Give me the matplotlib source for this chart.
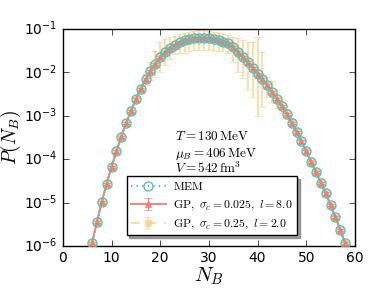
import numpy as np
import matplotlib
matplotlib.use("Agg")
import matplotlib.pyplot as plt

plt.style.use("classic")
plt.rcParams["mathtext.fontset"] = "cm"

# ---- data ----
N = list(range(6, 59))
# log10 P(N_B)
logP = [-5.94, -5.45, -4.99, -4.57, -4.18, -3.82, -3.48, -3.17, -2.88, -2.62,
        -2.38, -2.16, -1.97, -1.80, -1.65, -1.53, -1.43, -1.36, -1.30, -1.26,
        -1.23, -1.21, -1.20, -1.20, -1.21, -1.23, -1.26, -1.29, -1.33, -1.42,
        -1.53, -1.65, -1.77, -1.90, -2.03, -2.16, -2.30, -2.45, -2.61, -2.78,
        -2.96, -3.16, -3.37, -3.59, -3.82, -4.06, -4.30, -4.55, -4.79, -5.06,
        -5.34, -5.63, -5.94]
# GP (sigma_c = 0.25) error bar extents, in decades above / below
gp2_up = [0.03]*9 + [0.05, 0.08, 0.12, 0.20, 0.30, 0.35, 0.30, 0.25, 0.20, 0.18,
          0.17, 0.17, 0.17, 0.17, 0.17, 0.17, 0.17, 0.17, 0.18, 0.19, 0.24,
          0.32, 0.40, 0.48, 0.61, 0.84, 0.64, 0.20, 0.25, 0.20, 0.15, 0.12,
          0.08, 0.05] + [0.03]*10
gp2_dn = [0.03]*9 + [0.05, 0.08, 0.12, 0.20, 0.30, 0.35, 0.30, 0.25, 0.22, 0.25,
          0.28, 0.28, 0.28, 0.28, 0.28, 0.28, 0.28, 0.25, 0.22, 0.22, 0.34,
          0.46, 0.48, 0.64, 0.66, 0.98, 0.63, 0.27, 0.25, 0.20, 0.15, 0.12,
          0.08, 0.05] + [0.03]*10
gp1_rel = 0.06  # small relative error of the sigma_c = 0.025 GP

N = np.array(N)
P = 10.0 ** np.array(logP)
up = P * (10.0 ** np.array(gp2_up) - 1)
dn = P * (1 - 10.0 ** (-np.array(gp2_dn)))

fig = plt.figure(figsize=(3.74, 2.91), dpi=100)
ax = fig.add_axes([0.168, 0.155, 0.781, 0.745])

c_mem = "#5cbdb9"
c_red = "#f47c6c"
c_yel = "#fdcf87"

e_yel = ax.errorbar(N, P, yerr=[dn, up], color=c_yel, ls="--", lw=1.5, marker="s",
                    ms=4, mec=c_yel, mfc=c_yel, capsize=3, elinewidth=1.2, alpha=0.8,
                    zorder=2)
e_red = ax.errorbar(N, P, yerr=gp1_rel * P, color=c_red, ls="-", lw=1.5, marker="^",
                    ms=4.5, mec=c_red, mfc=c_red, capsize=3, elinewidth=1.0, alpha=0.9,
                    zorder=3)
l_mem, = ax.plot(N, P, color=c_mem, ls=":", lw=1.5, marker="o", ms=6.5, mfc="none",
                 mec=c_mem, mew=1.0, zorder=4)

ax.set_yscale("log")
ax.set_xlim(0, 60)
ax.set_ylim(1e-6, 1e-1)
ax.minorticks_off()
ax.tick_params(labelsize=10)
ax.set_xlabel(r"$N_B$", fontsize=15, labelpad=0)
ax.set_ylabel(r"$P(N_B)$", fontsize=14)
ax.yaxis.set_label_coords(-0.135, 0.5)

ax.text(0.385, 0.49, r"$T = 130\,\mathrm{MeV}$", transform=ax.transAxes, fontsize=9.5)
ax.text(0.385, 0.41, r"$\mu_B = 406\,\mathrm{MeV}$", transform=ax.transAxes, fontsize=9.5)
ax.text(0.385, 0.335, r"$V = 542\,\mathrm{fm}^3$", transform=ax.transAxes, fontsize=9.5)

leg = ax.legend([l_mem, e_red, e_yel],
                [r"$\mathrm{MEM}$", r"$\mathrm{GP},\ \sigma_c=0.025,\ l=8.0$",
                 r"$\mathrm{GP},\ \sigma_c=0.25,\ l=2.0$"],
                loc="lower left", bbox_to_anchor=(0.218, 0.05),
                fontsize=8.5, shadow=True, fancybox=False, numpoints=1,
                handlelength=3.0, borderpad=0.35, labelspacing=0.4,
                handletextpad=0.6, borderaxespad=0)
leg.get_frame().set_edgecolor("black")
leg.get_frame().set_linewidth(1.0)

fig.savefig("out.png", dpi=100)
